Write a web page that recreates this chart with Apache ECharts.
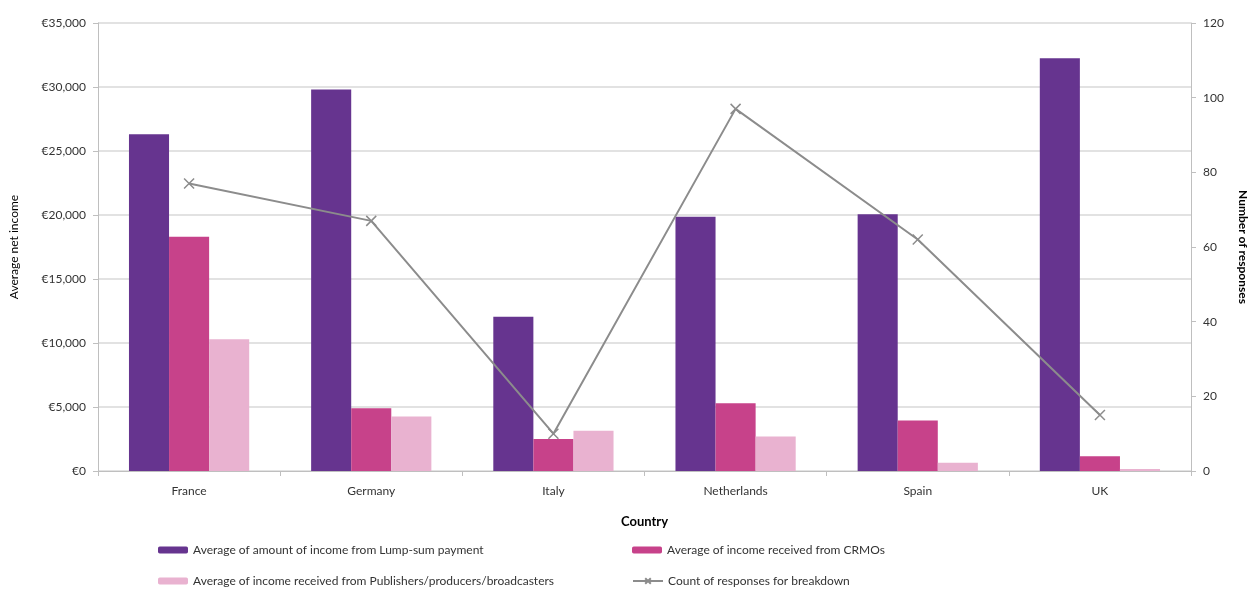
<!DOCTYPE html>
<html><head><meta charset="utf-8">
<script src="https://cdn.jsdelivr.net/npm/echarts@6/dist/echarts.min.js"></script>
<style>html,body{margin:0;padding:0;background:#fff}#c{width:1260px;height:590px}</style>
</head><body><div id="c"></div>
<script>
const categories = ['France','Germany','Italy','Netherlands','Spain','UK'];
const lumpSum = [26300, 29800, 12050, 19870, 20050, 32250];
const crmos = [18300, 4900, 2500, 5300, 3950, 1150];
const publishers = [10300, 4250, 3150, 2700, 650, 150];
const responses = [77, 67, 10, 97, 62, 15];
const leftTicks = [0, 5000, 10000, 15000, 20000, 25000, 30000, 35000];
const rightTicks = [0, 20, 40, 60, 80, 100, 120];
const names = ['Average of amount of income from Lump-sum payment','Average of income received from CRMOs','Average of income received from Publishers/producers/broadcasters','Count of responses for breakdown'];

const FONT = 'Lato';
const chart = echarts.init(document.getElementById('c'));
const axisGray = '#BFBFBF';
const txt = {fontFamily: FONT, fontSize: 12, color: '#333'};
function legend(name, left, top) {
  return {data:[name], left:left, top:top, itemWidth:30, itemHeight:7, itemGap:4, textStyle:Object.assign({}, txt, {fontSize:12}), padding:0};
}
chart.setOption({
  animation:false,
  textStyle:{fontFamily:FONT},
  grid:{left:97, right:69, top:23, bottom:119},
  legend:[legend(names[0],158,544), legend(names[1],632,544), legend(names[2],158,575), legend(names[3],632,575)],
  xAxis:{type:'category', data:categories, name:'Country', nameLocation:'middle', nameGap:44,
    nameTextStyle:{fontFamily:FONT, fontSize:13, fontWeight:'bold', color:'#000'},
    axisLine:{lineStyle:{color:axisGray}}, axisTick:{show:true, length:5, lineStyle:{color:axisGray}},
    axisLabel:Object.assign({}, txt, {margin:14})},
  yAxis:[
    {type:'value', min:leftTicks[0], max:leftTicks[leftTicks.length-1], interval:5000,
     name:'Average net income', nameLocation:'middle', nameGap:78, nameRotate:90,
     nameTextStyle:{fontFamily:FONT, fontSize:12, color:'#000'},
     axisLine:{show:true, lineStyle:{color:axisGray}}, axisTick:{show:true, length:5, lineStyle:{color:axisGray}},
     axisLabel:Object.assign({}, txt, {margin:12, formatter:v=>'€'+v.toLocaleString('en-US')}),
     splitLine:{lineStyle:{color:'#D9D9D9', width:1.5}}},
    {type:'value', min:rightTicks[0], max:rightTicks[rightTicks.length-1], interval:20,
     name:'Number of responses', nameLocation:'middle', nameGap:46, nameRotate:-90,
     nameTextStyle:{fontFamily:FONT, fontSize:12, fontWeight:'bold', color:'#000'},
     axisLine:{show:true, lineStyle:{color:axisGray}}, axisTick:{show:true, length:5, lineStyle:{color:axisGray}},
     axisLabel:Object.assign({}, txt, {margin:12}), splitLine:{show:false}}
  ],
  series:[
    {name:names[0], type:'bar', data:lumpSum, itemStyle:{color:'#66348F'}, barGap:'0%', barCategoryGap:'34%'},
    {name:names[1], type:'bar', data:crmos, itemStyle:{color:'#C7428A'}},
    {name:names[2], type:'bar', data:publishers, itemStyle:{color:'#E9B2D0'}},
    {name:names[3], type:'line', yAxisIndex:1, data:responses, z:5,
     lineStyle:{color:'#8C8C8C', width:2}, symbol:'path://M0,0L10,10M10,0L0,10', symbolSize:10,
     itemStyle:{color:'rgba(0,0,0,0)', borderColor:'#8C8C8C', borderWidth:1.5}}
  ]
});
</script></body></html>
